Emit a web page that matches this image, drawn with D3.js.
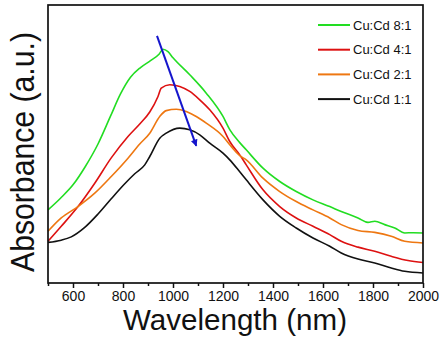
<!DOCTYPE html>
<html><head><meta charset="utf-8">
<script src="https://cdn.jsdelivr.net/npm/d3@7"></script>
<style>body{margin:0;background:#fff}svg{display:block}text{font-family:Arial,"Liberation Sans",sans-serif}</style>
</head><body><div id="chart"></div>
<script>
// Wavelength (nm) and absorbance (a.u., arbitrary 0–1 scale)
const seriesNames = ["Cu:Cd 8:1", "Cu:Cd 4:1", "Cu:Cd 2:1", "Cu:Cd 1:1"];
const seriesColors = ["#22dd22", "#dd1111", "#ee7711", "#111111"];

const green = [[500,0.263],[550,0.305],[600,0.353],[650,0.420],[700,0.500],[750,0.600],[790,0.680],[830,0.740],[870,0.775],[910,0.800],[945,0.824],[960,0.841],[980,0.832],[1000,0.810],[1067,0.749],[1133,0.683],[1200,0.599],[1227,0.552],[1267,0.505],[1293,0.479],[1360,0.413],[1427,0.365],[1493,0.329],[1560,0.299],[1627,0.275],[1673,0.257],[1740,0.234],[1780,0.218],[1807,0.222],[1847,0.210],[1887,0.198],[1927,0.180],[1960,0.181],[2000,0.180]];
const red = [[500,0.150],[553,0.204],[620,0.275],[687,0.359],[753,0.450],[820,0.527],[867,0.572],[907,0.615],[940,0.671],[953,0.701],[987,0.713],[1027,0.707],[1067,0.689],[1107,0.659],[1147,0.623],[1200,0.557],[1227,0.509],[1267,0.461],[1293,0.425],[1360,0.335],[1427,0.275],[1493,0.234],[1560,0.204],[1627,0.174],[1673,0.150],[1740,0.129],[1807,0.114],[1873,0.096],[1940,0.081],[2000,0.074]];
const orange = [[500,0.186],[553,0.234],[620,0.275],[687,0.323],[753,0.383],[820,0.449],[867,0.500],[907,0.539],[947,0.599],[973,0.620],[1013,0.625],[1053,0.617],[1093,0.599],[1133,0.575],[1200,0.527],[1227,0.497],[1267,0.458],[1293,0.443],[1360,0.377],[1427,0.329],[1493,0.293],[1560,0.263],[1627,0.234],[1673,0.210],[1740,0.189],[1807,0.182],[1873,0.168],[1927,0.150],[2000,0.144]];
const black = [[500,0.146],[553,0.154],[593,0.166],[647,0.200],[700,0.248],[753,0.303],[807,0.357],[847,0.393],[887,0.425],[907,0.455],[947,0.521],[973,0.539],[1027,0.557],[1067,0.551],[1107,0.533],[1147,0.503],[1200,0.467],[1227,0.443],[1267,0.400],[1293,0.371],[1360,0.299],[1427,0.240],[1493,0.198],[1560,0.162],[1627,0.132],[1673,0.108],[1740,0.086],[1807,0.072],[1873,0.054],[1927,0.042],[2000,0.036]];
const seriesData = [green, red, orange, black];

const xTickValues = [600, 800, 1000, 1200, 1400, 1600, 1800, 2000];
const xMinorTicks = [500, 700, 900, 1100, 1300, 1500, 1700, 1900];
const arrowStart = [936, 0.889];
const arrowEnd = [1093, 0.493];

const W = 447, H = 342;
const m = {left: 48, right: 24, top: 5, bottom: 59};
const svg = d3.select("#chart").append("svg").attr("width", W).attr("height", H);
const x = d3.scaleLinear().domain([500, 2000]).range([m.left, W - m.right]);
const y = d3.scaleLinear().domain([0, 1]).range([H - m.bottom, m.top]);

const line = d3.line().x(d => x(d[0])).y(d => y(d[1])).curve(d3.curveMonotoneX);
seriesData.forEach((s, i) => {
  svg.append("path").datum(s).attr("d", line).attr("fill", "none")
    .attr("stroke", seriesColors[i]).attr("stroke-width", 1.6);
});

// arrow
svg.append("defs").append("marker").attr("id", "ah").attr("viewBox", "0 0 10 10")
  .attr("refX", 9).attr("refY", 5).attr("markerWidth", 4.5).attr("markerHeight", 3.5)
  .attr("markerUnits", "strokeWidth").attr("orient", "auto")
  .append("path").attr("d", "M0,0 L10,5 L0,10 Z").attr("fill", "#1515cc");
svg.append("line").attr("x1", x(arrowStart[0])).attr("y1", y(arrowStart[1]))
  .attr("x2", x(arrowEnd[0])).attr("y2", y(arrowEnd[1]))
  .attr("stroke", "#1515cc").attr("stroke-width", 2).attr("marker-end", "url(#ah)");

// axes
const gx = svg.append("g").attr("transform", `translate(0,${H - m.bottom})`)
  .call(d3.axisBottom(x).tickValues(xTickValues).tickSize(5).tickPadding(3).tickFormat(d3.format("d")));
gx.select(".domain").remove();
gx.selectAll("text").attr("font-size", 14).attr("fill", "#111").attr("font-family", "Arial, 'Liberation Sans', sans-serif");
gx.selectAll("line").attr("stroke", "#111").attr("stroke-width", 1.5);
const gxm = svg.append("g").attr("transform", `translate(0,${H - m.bottom})`)
  .call(d3.axisBottom(x).tickValues(xMinorTicks).tickSize(3).tickFormat(""));
gxm.select(".domain").remove();
gxm.selectAll("text").remove();
gxm.selectAll("line").attr("stroke", "#111").attr("stroke-width", 1.5);

svg.append("rect").attr("x", m.left).attr("y", m.top)
  .attr("width", W - m.left - m.right).attr("height", H - m.top - m.bottom)
  .attr("fill", "none").attr("stroke", "#111").attr("stroke-width", 1.7);

// titles
svg.append("text").attr("x", 235).attr("y", 330).attr("text-anchor", "middle")
  .attr("font-size", 30).attr("fill", "#111")
  .attr("textLength", 224).attr("lengthAdjust", "spacingAndGlyphs").text("Wavelength (nm)");
svg.append("text").attr("transform", "translate(34,152) rotate(-90)").attr("text-anchor", "middle")
  .attr("font-size", 33).attr("fill", "#111")
  .attr("textLength", 240).attr("lengthAdjust", "spacingAndGlyphs").text("Absorbance (a.u.)");

// legend
const lg = svg.append("g");
seriesNames.forEach((n, i) => {
  const ly = 25 + i * 24.7;
  lg.append("line").attr("x1", 318).attr("x2", 350).attr("y1", ly).attr("y2", ly)
    .attr("stroke", seriesColors[i]).attr("stroke-width", 2);
  lg.append("text").attr("x", 353).attr("y", ly + 4.5).attr("font-size", 13).attr("fill", "#111").text(n);
});
</script></body></html>
